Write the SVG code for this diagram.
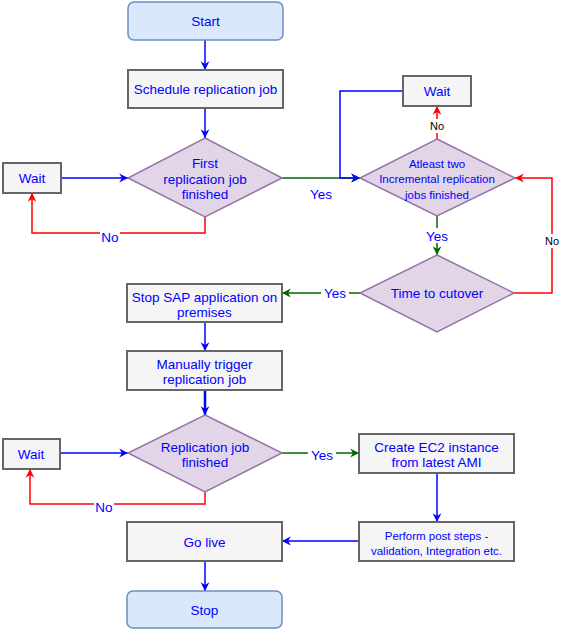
<svg xmlns="http://www.w3.org/2000/svg" width="561" height="630" viewBox="0 0 561 630">
<defs>
<style>
.term{fill:#dae8fc;stroke:#6c8ebf;stroke-width:1.5}
.box{fill:#f5f5f5;stroke:#666666;stroke-width:2}
.dia{fill:#e1d5e7;stroke:#9673a6;stroke-width:1.5}
.t{font-family:"Liberation Sans",Arial,sans-serif;font-size:13.5px;fill:#0000ff;text-anchor:middle;dominant-baseline:central}
.s{font-size:11.5px}
.k{fill:#000000;font-size:11px}
.e{fill:none;stroke-width:1.5}
.b{stroke:#0000ff;marker-end:url(#ab)}
.r{stroke:#ff0000;marker-end:url(#ar)}
.g{stroke:#006600;marker-end:url(#ag)}
.bg{fill:#ffffff}
</style>
<marker id="ab" viewBox="0 0 10 10" refX="9" refY="5" markerWidth="11" markerHeight="11" markerUnits="userSpaceOnUse" orient="auto"><path d="M1,1 L9,5 L1,9 L3.5,5 z" fill="#0000ff"/></marker>
<marker id="ar" viewBox="0 0 10 10" refX="9" refY="5" markerWidth="11" markerHeight="11" markerUnits="userSpaceOnUse" orient="auto"><path d="M1,1 L9,5 L1,9 L3.5,5 z" fill="#ff0000"/></marker>
<marker id="ag" viewBox="0 0 10 10" refX="9" refY="5" markerWidth="11" markerHeight="11" markerUnits="userSpaceOnUse" orient="auto"><path d="M1,1 L9,5 L1,9 L3.5,5 z" fill="#006600"/></marker>
</defs>
<rect width="561" height="630" fill="#ffffff"/>
<g id="connectors">
<path class="e b" d="M205,40 V70"/>
<path class="e b" d="M205,108 V138"/>
<path class="e b" d="M61,178 H128"/>
<path class="e r" d="M205,217 V233 H32 V193"/>
<path class="e g" d="M282,178 H360"/>
<path class="e b" d="M403,91 H340 V178 H360"/>
<path class="e r" d="M437,139 V106"/>
<path class="e g" d="M437,216 V255"/>
<path class="e r" d="M514,293 H552 V178 H515"/>
<path class="e g" d="M360,293 H282"/>
<path class="e b" d="M205,322 V351"/>
<path class="e b" style="stroke-width:2.5" d="M205,390 V415"/>
<path class="e b" d="M60,453 H128"/>
<path class="e r" d="M205,492 V504 H30 V469"/>
<path class="e g" d="M282,453 H359"/>
<path class="e b" d="M437,473 V522"/>
<path class="e b" d="M359,541 H282"/>
<path class="e b" d="M205,561 V591"/>
<rect class="bg" x="100" y="229" width="20" height="15"/>
<text class="t" x="110" y="237">No</text>
<text class="t" x="321" y="194">Yes</text>
<rect class="bg" x="428" y="119" width="18" height="14"/>
<text class="t k" x="437" y="126">No</text>
<rect class="bg" x="424" y="228" width="26" height="15"/>
<text class="t" x="437" y="236">Yes</text>
<rect class="bg" x="543" y="234" width="18" height="14"/>
<text class="t k" x="552" y="241">No</text>
<rect class="bg" x="321" y="285" width="28" height="15"/>
<text class="t" x="335" y="293">Yes</text>
<rect class="bg" x="94" y="499" width="20" height="15"/>
<text class="t" x="104" y="507">No</text>
<rect class="bg" x="308" y="447" width="28" height="15"/>
<text class="t" x="322" y="455">Yes</text>
</g>
<g id="start"><rect class="term" x="128" y="2" width="155" height="38" rx="6"/><text class="t" x="205.5" y="21">Start</text></g>
<g id="schedule"><rect class="box" x="128" y="70" width="155" height="38"/><text class="t" x="205.5" y="89">Schedule replication job</text></g>
<g id="first-finished"><polygon class="dia" points="205,138 282,178 205,217 128,178"/><text class="t" x="205" y="163">First</text><text class="t" x="205" y="179">replication job</text><text class="t" x="205" y="194">finished</text></g>
<g id="wait1"><rect class="box" x="3" y="163" width="58" height="30"/><text class="t" x="32" y="178">Wait</text></g>
<g id="two-incremental"><polygon class="dia" points="437,139 515,178 437,216 360,178"/><text class="t s" x="437" y="164">Atleast two</text><text class="t s" x="437" y="179">Incremental replication</text><text class="t s" x="437" y="195">jobs finished</text></g>
<g id="wait2"><rect class="box" x="403" y="76" width="68" height="30"/><text class="t" x="437" y="91">Wait</text></g>
<g id="cutover"><polygon class="dia" points="437,255 514,293 437,332 360,293"/><text class="t" x="437" y="293">Time to cutover</text></g>
<g id="stop-sap"><rect class="box" x="127" y="284" width="155" height="38"/><text class="t" x="204.5" y="297">Stop SAP application on</text><text class="t" x="204.5" y="312">premises</text></g>
<g id="manual"><rect class="box" x="127" y="351" width="155" height="39"/><text class="t" x="204.5" y="364">Manually trigger</text><text class="t" x="204.5" y="379">replication job</text></g>
<g id="repl-finished"><polygon class="dia" points="205,415 282,453 205,492 128,453"/><text class="t" x="205" y="447">Replication job</text><text class="t" x="205" y="462">finished</text></g>
<g id="wait3"><rect class="box" x="3" y="439" width="57" height="30"/><text class="t" x="31" y="454">Wait</text></g>
<g id="create-ec2"><rect class="box" x="359" y="434" width="155" height="39"/><text class="t" x="436.5" y="447">Create EC2 instance</text><text class="t" x="436.5" y="462">from latest AMI</text></g>
<g id="post-steps"><rect class="box" x="359" y="522" width="155" height="39"/><text class="t s" x="436.5" y="536">Perform post steps -</text><text class="t s" x="436.5" y="551">validation, Integration etc.</text></g>
<g id="go-live"><rect class="box" x="127" y="522" width="155" height="39"/><text class="t" x="204.5" y="542">Go live</text></g>
<g id="stop"><rect class="term" x="127" y="591" width="155" height="37" rx="6"/><text class="t" x="204.5" y="610">Stop</text></g>
</svg>
